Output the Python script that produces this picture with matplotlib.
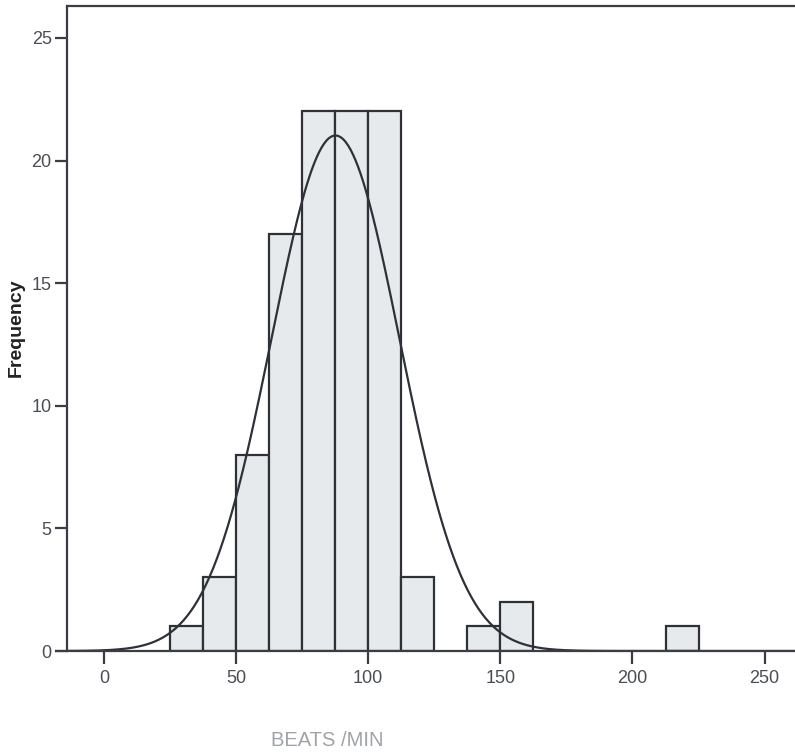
import matplotlib.pyplot as plt
import numpy as np

plt.rcParams['font.family'] = ['Liberation Sans', 'DejaVu Sans']

# histogram bins (beats/min) and counts
bin_edges = [25, 37.5, 50, 62.5, 75, 87.5, 100, 112.5, 125, 137.5, 150, 162.5,
             175, 187.5, 200, 212.5, 225]
counts = [1, 3, 8, 17, 22, 22, 22, 3, 0, 1, 2, 0, 0, 0, 0, 1]

# fitted normal curve
mean_bpm = 87.6
sd_bpm = 24.2
n_total = sum(counts)
bin_w = 12.5

x_ticks = [0, 50, 100, 150, 200, 250]
y_ticks = [0, 5, 10, 15, 20, 25]

fig = plt.figure(figsize=(7.95, 7.53), dpi=100)
ax = fig.add_axes([67/795, 102/753, 1 - 67/795, (651 - 6)/753])

lefts = np.array(bin_edges[:-1])
widths = np.diff(bin_edges)
for l, w, c in zip(lefts, widths, counts):
    if c > 0:
        ax.bar(l, c, w, align='edge', color='#e6eaec', edgecolor='#2e3238', linewidth=1.6)

xs = np.linspace(-14, 262, 600)
ys = n_total * bin_w / (sd_bpm * np.sqrt(2 * np.pi)) * np.exp(-0.5 * ((xs - mean_bpm) / sd_bpm) ** 2)
ax.plot(xs, ys, color='#2e3238', lw=1.6)

ax.set_xlim(-14, 261.5)
ax.set_ylim(0, 26.3)
ax.set_xticks(x_ticks)
ax.set_yticks(y_ticks)

for s in ['top', 'left', 'bottom']:
    ax.spines[s].set_color('#3a3e44')
    ax.spines[s].set_linewidth(1.6)
ax.spines['right'].set_visible(False)
ax.spines['bottom'].set_bounds(-18, 262)
ax.spines['bottom'].set_clip_on(False)

ax.tick_params(axis='both', direction='out', length=9, width=1.6, color='#3a3e44',
               labelsize=13, labelcolor='#4a4e54')
ax.tick_params(axis='y', pad=2)
ax.tick_params(axis='x', pad=5)

fig.text(16/795, 1 - 328/753, 'Frequency', fontsize=14, fontweight='bold', color='#222222',
         rotation=90, ha='center', va='center')
fig.text(327/795, 1 - 741/753, 'BEATS /MIN', fontsize=14.5, color='#a0a4a8',
         ha='center', va='center')

plt.savefig('out.png', dpi=100)
